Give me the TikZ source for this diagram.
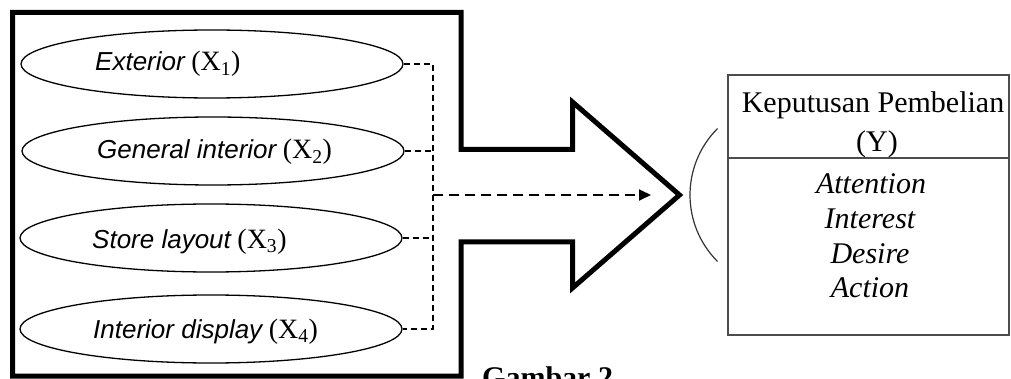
\documentclass[tikz,border=0pt]{standalone}
\usepackage{fontspec}
\setmainfont{Liberation Serif}
\newfontfamily\sansfam{Liberation Sans}
\usetikzlibrary{arrows.meta,shapes.geometric}
\newcommand{\xv}[1]{{\fontsize{28}{30}\selectfont(X\textsubscript{#1})}}
\begin{document}
\begin{tikzpicture}[x=1pt,y=-1pt,
  frame/.style={line width=5pt,line join=miter},
  oval/.style={draw,ellipse,line width=1.3pt,minimum width=382pt,minimum height=68pt,inner sep=0pt},
  ovaltext/.style={anchor=base west,inner sep=0pt,font=\fontsize{26}{30}\selectfont},
  dsh/.style={line width=1.2pt,dash pattern=on 6pt off 4pt},
  bigdsh/.style={line width=1.8pt,dash pattern=on 10pt off 6pt,-{Triangle[length=12pt,width=11pt]}},
  boxtext/.style={anchor=base,inner sep=0pt,font=\fontsize{30}{34}\selectfont},
  greyline/.style={draw=black!70,line width=1.4pt}]
\useasboundingbox (0,0) rectangle (1011,379);
\clip (0,0) rectangle (1011,379);
% outer frame merged with the big arrow
\draw[frame] (12.5,12.5) -- (461,12.5) -- (461,149.5) -- (572.5,149.5) -- (572.5,102)
  -- (679.5,195) -- (572.5,288) -- (572.5,242) -- (461,242) -- (461,376) -- (12.5,376) -- cycle;
% ellipses
\node[oval] (e1) at (212,64) {};
\node[oval] (e2) at (213,151) {};
\node[oval] (e3) at (211,238) {};
\node[oval] (e4) at (211,329) {};
\node[ovaltext] (t1) at (95,71) {{\sansfam\itshape Exterior} \xv{1}};
\node[ovaltext] (t2) at (97,159) {{\sansfam\itshape General interior} \xv{2}};
\node[ovaltext] (t3) at (92,248) {{\sansfam\itshape Store layout} \xv{3}};
\node[ovaltext] (t4) at (93,338) {{\sansfam\itshape Interior display} \xv{4}};
% dashed connectors
\coordinate (bus) at (433,195);
\coordinate (tip) at (651,195);
\draw[dsh] (e1.east) -- (e1.east -| bus) -- (e4.east -| bus) -- (e4.east);
\draw[dsh] (e2.east) -- (e2.east -| bus);
\draw[dsh] (e3.east) -- (e3.east -| bus);
\draw[bigdsh] (bus) -- (tip);
% arc
\coordinate (arcc) at (784,195);
\draw[line width=1.2pt,black!80] ([shift={(135:94pt)}]arcc) arc[start angle=135,end angle=225,radius=94pt];
% Y box
\node[greyline,rectangle,minimum width=281pt,minimum height=260pt,inner sep=0pt] (ybox) at (868.5,205) {};
\coordinate (divl) at (728,158);
\draw[greyline] (divl) -- (divl -| ybox.east);
\node[boxtext] (yt1) at (873,113) {Keputusan Pembelian};
\node[boxtext] (yt2) at (877,152) {(Y)};
\node[boxtext] (a1) at (871,194) {\itshape Attention};
\node[boxtext] (a2) at (870,228.5) {\itshape Interest};
\node[boxtext] (a3) at (870,263) {\itshape Desire};
\node[boxtext] (a4) at (870,297.5) {\itshape Action};
% caption (cut off at the bottom, as in the reference)
\node[anchor=base west,inner sep=0pt,font=\fontsize{30}{34}\selectfont\bfseries] (cap) at (482,387) {Gambar 2};
\end{tikzpicture}
\end{document}
